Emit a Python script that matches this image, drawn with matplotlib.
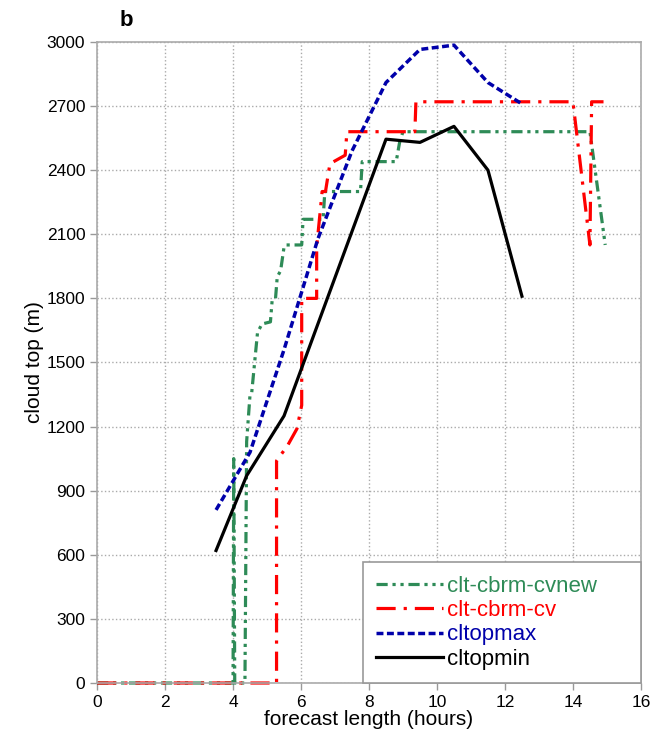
import matplotlib
matplotlib.use('Agg')
import matplotlib.pyplot as plt

plt.rcParams.update({
    'font.family': ['Liberation Sans', 'DejaVu Sans'],
    'axes.unicode_minus': False,
})

# ── data ──
cvnew_x = [0, 4.0, 4.02, 4.05, 4.35, 4.4, 4.5, 4.55, 4.72, 4.85, 5.1, 5.15, 5.25, 5.3,
           5.4, 5.5, 5.55, 6.02, 6.06, 6.65, 6.7, 7.75, 7.8, 8.8, 8.9, 9.0, 14.5, 14.95]
cvnew_y = [0, 0, 1050, 0, 0, 1130, 1350, 1360, 1640, 1680, 1690, 1790, 1800, 1900,
           1930, 2040, 2050, 2050, 2170, 2170, 2300, 2300, 2440, 2440, 2530, 2580, 2580, 2050]

cv_x = [0, 5.28, 5.28, 5.6, 5.88, 6.02, 6.02, 6.46, 6.46, 6.56, 6.62, 6.72, 6.85,
        7.3, 7.35, 9.35, 9.38, 14.0, 14.5, 14.55, 14.9]
cv_y = [0, 0, 1040, 1110, 1190, 1300, 1800, 1800, 2040, 2200, 2300, 2300, 2430,
        2470, 2580, 2580, 2720, 2720, 2050, 2720, 2720]

max_x = [3.5, 4.5, 5.5, 6.5, 7.5, 8.5, 9.5, 10.5, 11.5, 12.5]
max_y = [810, 1080, 1560, 2080, 2490, 2810, 2965, 2985, 2810, 2710]

min_x = [3.5, 4.4, 5.5, 8.5, 9.5, 10.5, 11.5, 12.5]
min_y = [620, 970, 1250, 2545, 2530, 2605, 2400, 1810]

x_ticks = list(range(0, 17, 2))
y_ticks = list(range(0, 3001, 300))

fig = plt.figure(figsize=(6.56, 7.36), dpi=100, facecolor='white')
ax = fig.add_axes([0.148, 0.072, 0.829, 0.871])

ax.plot(cvnew_x, cvnew_y, color='#2E8B57', lw=2.3, clip_on=False,
        ls=(0, (3.5, 1.5, 1, 1.5, 1, 1.5)), label='clt-cbrm-cvnew')
ax.plot(cv_x, cv_y, color='#FF0000', lw=2.3, clip_on=False,
        ls=(0, (6, 2.5, 1, 2.5)), label='clt-cbrm-cv')
ax.plot(max_x, max_y, color='#0000AA', lw=2.5, ls=(0, (2, 1)), label='cltopmax')
ax.plot(min_x, min_y, color='black', lw=2.3, ls='-', label='cltopmin')

ax.set_xlim(0, 16)
ax.set_ylim(0, 3000)
ax.set_xticks(x_ticks)
ax.set_yticks(y_ticks)
ax.tick_params(direction='out', length=5, width=1, color='#999999', labelsize=12.5)
ax.grid(True, ls=':', color='#aaaaaa', lw=1)
for s in ax.spines.values():
    s.set_color('#aaaaaa')
    s.set_linewidth(1.2)

ax.set_xlabel('forecast length (hours)', fontsize=15, labelpad=0)
ax.set_ylabel('cloud top (m)', fontsize=15, labelpad=2)

leg = ax.legend(loc='lower left', bbox_to_anchor=(0.489, 0.0, 0.511, 0.19), mode='expand',
                fontsize=16, borderaxespad=0, handlelength=3.0,
                handletextpad=0.2, labelspacing=0.15, fancybox=False,
                framealpha=1, borderpad=0.6)
leg.get_frame().set_edgecolor('#999999')
leg.get_frame().set_linewidth(1.2)
for txt, line in zip(leg.get_texts(), leg.get_lines()):
    txt.set_color(line.get_color())

fig.text(0.183, 0.972, 'b', fontsize=16, fontweight='bold', ha='left', va='center')

fig.savefig('out.png', dpi=100, facecolor='white')
plt.close()
